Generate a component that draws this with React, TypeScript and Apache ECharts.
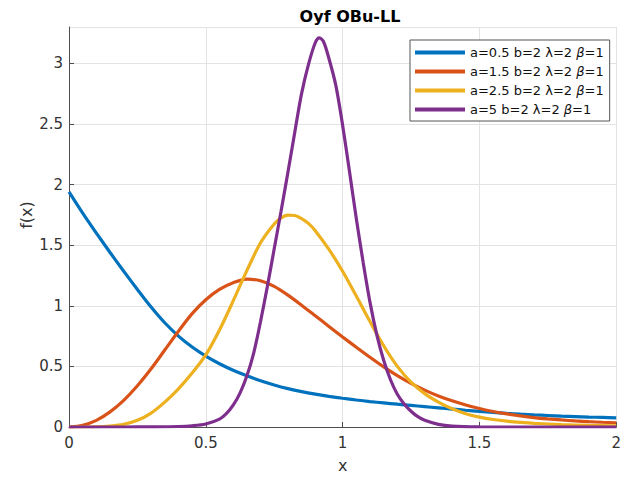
import React, { useEffect, useRef } from "react";
import * as echarts from "echarts";

// x grid shared by the blue and orange curves
const xGrid = [
  0, 0.05, 0.1, 0.15, 0.2, 0.25, 0.3, 0.35, 0.4, 0.45, 0.5, 0.55, 0.6, 0.65, 0.7, 0.75, 0.8, 0.85, 0.9, 0.95,
  1.0, 1.05, 1.1, 1.15, 1.2, 1.25, 1.3, 1.35, 1.4, 1.45, 1.5, 1.55, 1.6, 1.65, 1.7, 1.75, 1.8, 1.85, 1.9, 1.95, 2.0,
];

const blueY = [
  1.94, 1.765, 1.6, 1.44, 1.285, 1.135, 0.99, 0.86, 0.75, 0.66, 0.585, 0.522, 0.468, 0.422, 0.382, 0.347, 0.317, 0.292, 0.271, 0.253,
  0.237, 0.223, 0.21, 0.199, 0.188, 0.178, 0.168, 0.158, 0.148, 0.138, 0.129, 0.121, 0.113, 0.106, 0.1, 0.095, 0.09, 0.086, 0.082, 0.079, 0.076,
];

const orangeY = [
  0, 0.015, 0.055, 0.125, 0.22, 0.34, 0.48, 0.635, 0.79, 0.935, 1.05, 1.135, 1.19, 1.22, 1.207, 1.16, 1.088, 1.005, 0.918, 0.83,
  0.743, 0.658, 0.575, 0.496, 0.424, 0.36, 0.304, 0.256, 0.216, 0.182, 0.153, 0.128, 0.108, 0.092, 0.078, 0.067, 0.058, 0.05, 0.044, 0.039, 0.035,
];

// yellow curve, finer near its peak
const yellowX = [
  0, 0.1, 0.15, 0.2, 0.25, 0.3, 0.35, 0.4, 0.45, 0.5, 0.55, 0.6, 0.65, 0.7, 0.75, 0.775, 0.8, 0.825, 0.85, 0.875,
  0.9, 0.95, 1.0, 1.05, 1.1, 1.15, 1.2, 1.25, 1.3, 1.35, 1.4, 1.45, 1.5, 1.55, 1.6, 1.65, 1.7, 1.8, 1.9, 2.0,
];
const yellowY = [
  0, 0.002, 0.008, 0.022, 0.055, 0.115, 0.205, 0.315, 0.445, 0.595, 0.8, 1.04, 1.29, 1.52, 1.675, 1.725, 1.748, 1.745, 1.72, 1.68,
  1.62, 1.465, 1.285, 1.08, 0.87, 0.67, 0.5, 0.37, 0.275, 0.205, 0.15, 0.11, 0.082, 0.062, 0.048, 0.038, 0.03, 0.02, 0.014, 0.01,
];

// purple curve is sharper, so it has its own finer x grid
const purpleX = [
  0, 0.2, 0.3, 0.4, 0.45, 0.5, 0.55, 0.575, 0.6, 0.625, 0.65, 0.675, 0.7, 0.725, 0.75, 0.775, 0.8, 0.825, 0.85, 0.875,
  0.9, 0.915, 0.93, 0.95, 0.975, 1.0, 1.025, 1.05, 1.075, 1.1, 1.125, 1.15, 1.175, 1.2, 1.225, 1.25, 1.275, 1.3, 1.35, 1.4,
  1.5, 1.6, 1.8, 2.0,
];
const purpleY = [
  0, 0, 0.001, 0.004, 0.01, 0.025, 0.065, 0.11, 0.18, 0.28, 0.42, 0.61, 0.87, 1.16, 1.47, 1.78, 2.1, 2.43, 2.75, 2.99,
  3.17, 3.21, 3.18, 3.04, 2.82, 2.49, 2.11, 1.72, 1.36, 1.03, 0.76, 0.55, 0.39, 0.27, 0.19, 0.13, 0.085, 0.055, 0.022, 0.008,
  0.001, 0, 0, 0,
];

const seriesNames = [
  "a=0.5 b=2 λ=2 β=1",
  "a=1.5 b=2 λ=2 β=1",
  "a=2.5 b=2 λ=2 β=1",
  "a=5 b=2 λ=2 β=1",
];
const colors = ["#0072BD", "#D95319", "#EDB120", "#7E2F8E"];

const xTicks = { min: 0, max: 2, interval: 0.5 };
const yTicks = { min: 0, max: 3.3, interval: 0.5 };

const FONT = "DejaVu Sans";

function pairs(xs: number[], ys: number[]) {
  return xs.map((x, i) => [x, ys[i]]);
}

export default function App() {
  const ref = useRef<HTMLDivElement>(null);
  useEffect(() => {
    if (!ref.current) return;
    const chart = echarts.init(ref.current, null, { renderer: "svg" });
    const datasets = [
      pairs(xGrid, blueY),
      pairs(xGrid, orangeY),
      pairs(yellowX, yellowY),
      pairs(purpleX, purpleY),
    ];
    chart.setOption({
      animation: false,
      backgroundColor: "#ffffff",
      textStyle: { fontFamily: FONT },
      title: {
        text: "Oyf OBu-LL",
        left: 345,
        textAlign: "center",
        top: 3,
        textStyle: { fontFamily: FONT, fontSize: 16, fontWeight: "bold", color: "#000" },
      },
      grid: { left: 69, right: 3, top: 27, bottom: 54, containLabel: false },
      legend: {
        orient: "vertical",
        left: 410,
        top: 40,
        padding: [5, 6, 4, 5],
        itemGap: 4,
        itemWidth: 50,
        itemHeight: 4,
        icon: "rect",
        backgroundColor: "#ffffff",
        borderColor: "#555555",
        borderWidth: 1,
        borderRadius: 0,
        data: seriesNames,
        formatter: (name: string) => name.replace("β", "{i|β}"),
        textStyle: {
          fontFamily: FONT,
          fontSize: 13,
          color: "#111",
          lineHeight: 15,
          rich: {
            i: { fontFamily: FONT, fontSize: 13, fontStyle: "italic", color: "#111", lineHeight: 15 },
          },
        },
      },
      xAxis: {
        type: "value",
        min: xTicks.min,
        max: xTicks.max,
        interval: xTicks.interval,
        axisLine: { show: true, lineStyle: { color: "#4d4d4d", width: 1 } },
        axisTick: { show: true, inside: true, length: 5, lineStyle: { color: "#4d4d4d" } },
        axisLabel: { fontFamily: FONT, fontSize: 15, color: "#333", margin: 8 },
        splitLine: { show: true, lineStyle: { color: "#e3e3e3", width: 1 } },
        name: "x",
        nameLocation: "middle",
        nameGap: 30,
        nameTextStyle: { fontFamily: FONT, fontSize: 16, color: "#333" },
      },
      yAxis: {
        type: "value",
        min: yTicks.min,
        max: yTicks.max,
        interval: yTicks.interval,
        axisLine: { show: true, lineStyle: { color: "#4d4d4d", width: 1 } },
        axisTick: { show: true, inside: true, length: 5, lineStyle: { color: "#4d4d4d" } },
        axisLabel: { fontFamily: FONT, fontSize: 15, color: "#333", margin: 6, showMaxLabel: false },
        splitLine: { show: true, lineStyle: { color: "#e3e3e3", width: 1 } },
      },
      graphic: [
        {
          type: "text",
          x: 26,
          y: 215,
          rotation: Math.PI / 2,
          style: {
            text: "f(x)",
            fontFamily: FONT,
            fontSize: 16,
            fill: "#333",
            textAlign: "center",
            textVerticalAlign: "middle",
          },
        },
      ],
      series: seriesNames.map((name, i) => ({
        name,
        type: "line",
        data: datasets[i],
        showSymbol: false,
        smooth: 0.3,
        clip: true,
        lineStyle: { color: colors[i], width: 3.2 },
        itemStyle: { color: colors[i] },
        z: 2 + i,
      })),
    });
    return () => chart.dispose();
  }, []);
  return <div ref={ref} style={{ width: 624, height: 481, position: "absolute", left: 0, top: 0 }} />;
}
